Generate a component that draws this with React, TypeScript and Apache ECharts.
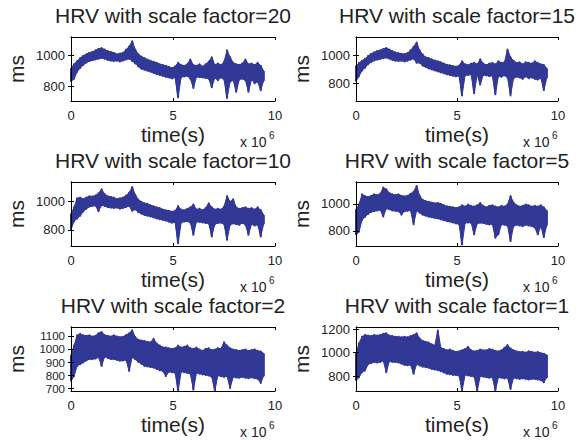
import React, { useEffect, useRef } from "react";
import * as echarts from "echarts";

const TIME = [
  0, 0.15, 0.3, 0.45, 0.6, 0.75, 0.9, 1.05, 1.2, 1.35,
  1.5, 1.65, 1.8, 1.95, 2.1, 2.25, 2.4, 2.55, 2.7, 2.85,
  3, 3.15, 3.3, 3.45, 3.6, 3.75, 3.9, 4.05, 4.2, 4.35,
  4.5, 4.65, 4.8, 4.95, 5.1, 5.25, 5.4, 5.55, 5.7, 5.85,
  6, 6.15, 6.3, 6.45, 6.6, 6.75, 6.9, 7.05, 7.2, 7.35,
  7.5, 7.65, 7.8, 7.95, 8.1, 8.25, 8.4, 8.55, 8.7, 8.85,
  9, 9.15, 9.3, 9.45,
];

const FACTORS = [20, 15, 10, 5, 2, 1];

const HI_20 = [
  915, 945, 965, 985, 1000, 1010, 1020, 1025, 1035, 1045,
  1050, 1040, 1030, 1025, 1020, 1010, 1015, 1020, 1040, 1060,
  1095, 1040, 1010, 995, 985, 975, 968, 960, 955, 945,
  940, 935, 928, 920, 930, 955, 940, 935, 945, 975,
  940, 935, 945, 930, 945, 960, 990, 940, 950, 940,
  960, 1035, 990, 955, 945, 940, 950, 975, 945, 950,
  940, 955, 935, 900,
];
const LO_20 = [
  830, 850, 895, 920, 940, 955, 965, 970, 975, 980,
  985, 980, 972, 968, 965, 968, 962, 968, 975, 980,
  965, 950, 930, 915, 908, 902, 895, 888, 880, 875,
  868, 862, 858, 852, 858, 730, 860, 865, 868, 850,
  790, 862, 860, 858, 855, 850, 795, 855, 840, 858,
  845, 725, 830, 840, 765, 845, 850, 840, 765, 845,
  820, 830, 775, 840,
];

const HI_15 = [
  920, 945, 960, 975, 995, 1010, 1020, 1030, 1035, 1045,
  1052, 1040, 1030, 1020, 1015, 1010, 1008, 1015, 1035, 1060,
  1090, 1035, 1005, 985, 980, 970, 962, 957, 950, 940,
  932, 928, 922, 918, 925, 957, 935, 930, 940, 945,
  935, 970, 940, 930, 940, 945, 935, 957, 945, 950,
  1040, 985, 960, 945, 950, 935, 950, 945, 940, 957,
  945, 935, 930, 905,
];
const LO_15 = [
  812, 850, 890, 910, 935, 950, 962, 968, 972, 978,
  982, 975, 965, 960, 958, 960, 955, 960, 968, 975,
  945, 945, 925, 915, 905, 898, 890, 884, 876, 870,
  862, 858, 852, 848, 852, 712, 855, 858, 862, 728,
  860, 790, 858, 855, 850, 852, 720, 850, 845, 855,
  840, 712, 835, 845, 840, 830, 848, 835, 840, 830,
  825, 835, 750, 840,
];

const HI_10 = [
  910, 960, 1025, 1030, 1020, 1030, 1040, 1038, 1045, 1060,
  1089, 1055, 1040, 1035, 1030, 1020, 1025, 1030, 1045, 1065,
  1106, 1050, 1015, 1000, 990, 985, 975, 968, 960, 955,
  945, 940, 935, 930, 935, 969, 945, 940, 950, 960,
  980, 945, 950, 940, 955, 990, 960, 945, 950, 945,
  965, 1041, 1000, 1017, 960, 950, 955, 960, 950, 955,
  945, 960, 940, 905,
];
const LO_10 = [
  800, 860, 880, 900, 930, 950, 965, 970, 972, 932,
  975, 970, 960, 958, 955, 958, 950, 955, 962, 970,
  935, 945, 925, 915, 905, 900, 895, 888, 880, 875,
  870, 865, 858, 850, 855, 704, 852, 858, 860, 850,
  764, 858, 855, 852, 848, 845, 752, 840, 848, 850,
  840, 728, 835, 845, 840, 835, 848, 835, 764, 840,
  830, 835, 752, 845,
];

const HI_5 = [
  957, 995, 1070, 1057, 1050, 1060, 1070, 1065, 1075, 1120,
  1107, 1080, 1070, 1065, 1070, 1060, 1055, 1060, 1075, 1090,
  1132, 1060, 1030, 1020, 1015, 1010, 1005, 1007, 1000, 990,
  982, 978, 975, 970, 975, 990, 980, 995, 985, 980,
  990, 1007, 985, 975, 985, 990, 980, 975, 985, 980,
  995, 1057, 1010, 990, 980, 985, 995, 990, 980, 985,
  980, 990, 975, 950,
];
const LO_5 = [
  770, 795, 880, 905, 925, 940, 945, 950, 955, 907,
  965, 960, 950, 948, 945, 920, 945, 948, 952, 850,
  950, 935, 920, 912, 905, 900, 895, 892, 885, 878,
  872, 868, 862, 855, 850, 700, 858, 862, 860, 775,
  855, 860, 858, 852, 848, 850, 750, 775, 848, 845,
  840, 725, 835, 845, 840, 835, 845, 840, 835, 825,
  775, 835, 755, 845,
];

const HI_2 = [
  952, 1030, 1108, 1120, 1108, 1105, 1108, 1100, 1105, 1125,
  1134, 1110, 1105, 1100, 1108, 1100, 1095, 1098, 1110, 1125,
  1147, 1095, 1075, 1069, 1065, 1060, 1055, 1082, 1045, 1030,
  1017, 1015, 1010, 1004, 1010, 1030, 1015, 1020, 1030, 1010,
  1005, 1015, 1000, 991, 1005, 1010, 995, 1000, 1010, 1005,
  1056, 1030, 1010, 1000, 995, 991, 995, 1000, 991, 995,
  1000, 990, 985, 970,
];
const LO_2 = [
  757, 796, 874, 887, 900, 915, 926, 926, 930, 940,
  874, 945, 935, 926, 926, 920, 913, 915, 920, 835,
  940, 925, 905, 890, 874, 870, 865, 861, 850, 840,
  835, 796, 830, 825, 822, 684, 830, 825, 820, 815,
  692, 820, 815, 809, 805, 800, 790, 684, 800, 795,
  790, 795, 705, 790, 785, 783, 790, 783, 780, 785,
  780, 775, 744, 800,
];

const HI_1 = [
  991, 1078, 1135, 1150, 1145, 1140, 1150, 1145, 1150, 1160,
  1164, 1145, 1140, 1135, 1135, 1130, 1135, 1130, 1140, 1150,
  1164, 1120, 1100, 1092, 1085, 1070, 1060, 1187, 1040, 1030,
  1020, 1025, 1015, 1006, 1010, 1020, 1030, 1049, 1020, 1010,
  1015, 1025, 1020, 1020, 1030, 1025, 1015, 1010, 1020, 1040,
  1063, 1035, 1020, 1010, 1005, 1006, 1000, 1010, 1006, 1000,
  1005, 995, 990, 980,
];
const LO_1 = [
  761, 790, 833, 847, 900, 910, 919, 915, 920, 930,
  833, 925, 920, 919, 915, 905, 895, 891, 895, 819,
  900, 890, 880, 876, 870, 860, 855, 850, 840, 830,
  819, 815, 810, 808, 804, 675, 810, 805, 800, 795,
  675, 800, 795, 790, 785, 790, 675, 790, 785, 780,
  785, 690, 785, 780, 776, 780, 776, 770, 776, 775,
  770, 765, 747, 790,
];

const HIGHS = [HI_20, HI_15, HI_10, HI_5, HI_2, HI_1];
const LOWS = [LO_20, LO_15, LO_10, LO_5, LO_2, LO_1];

const Y_MIN = [705, 672, 684, 689, 682, 673];
const Y_MAX = [1122, 1130, 1141, 1161, 1172, 1217];
const Y_TICKS = [
  [800, 1000],
  [800, 1000],
  [800, 1000],
  [800, 1000],
  [700, 800, 900, 1000, 1100],
  [800, 1000, 1200],
];
const X_MIN = 0;
const X_MAX = 10;
const X_STEP = 5;

const X_LABEL = "time(s)";
const Y_LABEL = "ms";
const TITLE_PREFIX = "HRV with scale factor=";
const EXP_BASE = "x 10";
const EXP_POWER = "6";

const FONT = "'Liberation Sans', Arial, Helvetica, sans-serif";
const TEXT_COLOR = "#222";
const LINE_COLOR = "#323896";

const COL_LEFT = [71, 356];
const COL_WIDTH = [204, 202];
const ROW_TOP = [37, 182, 327];
const PLOT_H = 64;

function renderBand(params: any, api: any) {
  const p = [
    api.coord([api.value(0), api.value(1)]),
    api.coord([api.value(0), api.value(2)]),
    api.coord([api.value(3), api.value(5)]),
    api.coord([api.value(3), api.value(4)]),
  ];
  const cs = params.coordSys;
  const pts = echarts.graphic.clipPointsByRect(p, {
    x: cs.x, y: cs.y, width: cs.width, height: cs.height,
  });
  return {
    type: "polygon",
    shape: { points: pts },
    style: { fill: LINE_COLOR, stroke: LINE_COLOR, lineWidth: 1 },
  };
}

export default function App() {
  const ref = useRef<HTMLDivElement>(null);

  useEffect(() => {
    if (!ref.current) return;
    const chart = echarts.init(ref.current, null, { renderer: "svg" });

    const grids: any[] = [];
    const xAxes: any[] = [];
    const yAxes: any[] = [];
    const series: any[] = [];
    const graphics: any[] = [];

    FACTORS.forEach((f, k) => {
      const col = k % 2;
      const row = Math.floor(k / 2);
      const left = COL_LEFT[col];
      const width = COL_WIDTH[col];
      const top = ROW_TOP[row];
      const bottom = top + PLOT_H;
      const right = left + width;
      const cx = left + width / 2;

      grids.push({ left, top, width, height: PLOT_H, containLabel: false });

      const axisLine = { show: true, lineStyle: { color: "#000", width: 1 } };
      const tick = { show: true, inside: true, length: 3, lineStyle: { color: "#000", width: 1 } };
      const label = {
        fontSize: 13, lineHeight: 12, color: TEXT_COLOR, fontFamily: FONT,
        formatter: (v: number) => String(v),
      };
      const yFont = Y_TICKS[k].length > 3 ? 11.5 : 13;

      xAxes.push({
        gridIndex: k, type: "value", position: "bottom", min: X_MIN, max: X_MAX, interval: X_STEP,
        axisLine, axisTick: tick, splitLine: { show: false }, z: 5,
        axisLabel: { ...label, margin: 8, showMinLabel: true, showMaxLabel: true },
      });
      xAxes.push({
        gridIndex: k, type: "value", position: "top", min: X_MIN, max: X_MAX, interval: X_STEP,
        axisLine, axisTick: tick, splitLine: { show: false }, axisLabel: { show: false }, z: 5,
      });
      yAxes.push({
        gridIndex: k, type: "value", position: "left", min: Y_MIN[k], max: Y_MAX[k],
        axisLine, axisTick: { ...tick, customValues: Y_TICKS[k] }, splitLine: { show: false }, z: 5,
        axisLabel: { ...label, fontSize: yFont, lineHeight: yFont - 1, margin: 6, customValues: Y_TICKS[k] },
      });
      yAxes.push({
        gridIndex: k, type: "value", position: "right", min: Y_MIN[k], max: Y_MAX[k],
        axisLine, axisTick: { ...tick, customValues: Y_TICKS[k] }, splitLine: { show: false }, z: 5,
        axisLabel: { show: false, customValues: Y_TICKS[k] },
      });

      const hi = HIGHS[k];
      const lo = LOWS[k];
      const zig: number[][] = [];
      const band: number[][] = [];
      TIME.forEach((t, i) => {
        zig.push([t, lo[i]]);
        zig.push([t, hi[i]]);
        if (i < TIME.length - 1) {
          band.push([t, lo[i], hi[i], TIME[i + 1], lo[i + 1], hi[i + 1]]);
        }
      });
      series.push({
        type: "custom", xAxisIndex: 2 * k, yAxisIndex: 2 * k, data: band,
        renderItem: renderBand, silent: true,
        encode: { x: [0, 3], y: [1, 2, 4, 5] },
      });
      series.push({
        type: "line", xAxisIndex: 2 * k, yAxisIndex: 2 * k, data: zig,
        symbol: "none", clip: true, silent: true,
        lineStyle: { color: LINE_COLOR, width: 2, join: "round" },
      });

      graphics.push({
        type: "text", x: cx, y: top - 22,
        style: { text: TITLE_PREFIX + f, fill: TEXT_COLOR, font: `21px ${FONT}`, align: "center", verticalAlign: "middle" },
      });
      graphics.push({
        type: "text", x: cx, y: bottom + 33,
        style: { text: X_LABEL, fill: TEXT_COLOR, font: `21px ${FONT}`, align: "center", verticalAlign: "middle" },
      });
      graphics.push({
        type: "text", x: left - 55, y: top + PLOT_H / 2, rotation: Math.PI / 2,
        style: { text: Y_LABEL, fill: TEXT_COLOR, font: `21px ${FONT}`, align: "center", verticalAlign: "middle" },
      });
      graphics.push({
        type: "text", x: right - 35, y: bottom + 41,
        style: { text: EXP_BASE, fill: TEXT_COLOR, font: `14px ${FONT}`, align: "left", verticalAlign: "middle" },
      });
      graphics.push({
        type: "text", x: right - 6, y: bottom + 34,
        style: { text: EXP_POWER, fill: TEXT_COLOR, font: `10px ${FONT}`, align: "left", verticalAlign: "middle" },
      });
    });

    chart.setOption({
      animation: false,
      backgroundColor: "#fff",
      grid: grids,
      xAxis: xAxes,
      yAxis: yAxes,
      series,
      graphic: graphics,
    });

    return () => chart.dispose();
  }, []);

  return (
    <div
      ref={ref}
      style={{ position: "absolute", left: 0, top: 0, width: 579, height: 440, background: "#fff" }}
    />
  );
}
